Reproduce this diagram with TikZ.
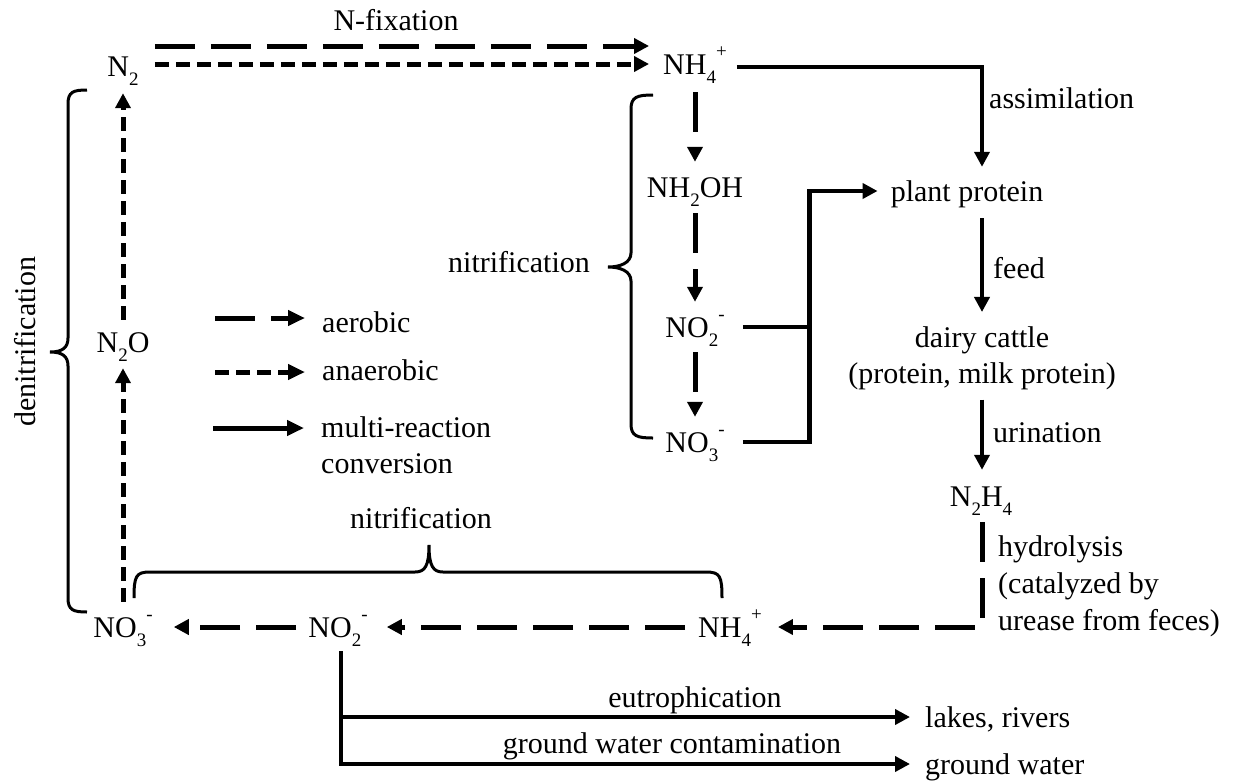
\documentclass[tikz,border=0pt]{standalone}
\usepackage{fontspec}
\setmainfont{Liberation Serif}
\usetikzlibrary{arrows.meta,calc}
\newcommand\chsub[1]{\raisebox{-9pt}{\fontsize{19}{19}\selectfont #1}}
\newcommand\chsup[1]{\raisebox{17pt}{\fontsize{19}{19}\selectfont #1}}
\tikzset{
 txt/.style={inner sep=0pt, font=\fontsize{30}{36}\selectfont},
 chem/.style={txt, text height=20pt, text depth=0pt, anchor=base},
 arrowtip/.style={-{Triangle[length=15pt,width=15pt]}},
 legtip/.style={-{Triangle[length=17pt,width=15pt]}},
 aer/.style={arrowtip, line width=5pt, dash pattern=on 40pt off 16pt},
 anaer/.style={arrowtip, line width=5pt, dash pattern=on 14pt off 7pt},
 sol/.style={arrowtip, line width=4.5pt},
 brace/.style={line width=3pt},
}
\begin{document}
\begin{tikzpicture}[x=1pt,y=-1pt]
\useasboundingbox (0,0) rectangle (1234,782);
% nodes
\node[chem] (n2) at (123,76) {N\chsub{2}};
\node[chem] (nh4a) at (695,74) {NH\chsub{4}\chsup{+}};
\node[chem] (nfix) at (396,30) {N-fixation};
\node[chem] (nh2oh) at (695,197) {NH\chsub{2}OH};
\node[chem] (no2a) at (695,337) {NO\chsub{2}\chsup{-}};
\node[chem] (no3a) at (695,452) {NO\chsub{3}\chsup{-}};
\node[chem, anchor=base east] (nitr1) at (590,272) {nitrification};
\node[chem] (plant) at (967,201) {plant protein};
\node[chem, anchor=base west] (assim) at (989,108) {assimilation};
\node[chem, anchor=base west] (feed) at (993,278) {feed};
\node[txt, anchor=base, align=center] (dairy) at (982,383) {dairy cattle\\(protein, milk protein)};
\node[chem, anchor=base west] (urin) at (993,442) {urination};
\node[chem] (n2h4) at (981,506) {N\chsub{2}H\chsub{4}};
\node[txt, anchor=base west, align=left, font=\fontsize{30}{37}\selectfont] (hydro) at (998,630) {hydrolysis\\(catalyzed by\\urease from feces)};
\node[chem] (nh4b) at (730,637) {NH\chsub{4}\chsup{+}};
\node[chem] (no2b) at (338,637) {NO\chsub{2}\chsup{-}};
\node[chem] (no3b) at (123,637) {NO\chsub{3}\chsup{-}};
\node[chem] (nitr2) at (421,528) {nitrification};
\node[chem] (n2o) at (123,352) {N\chsub{2}O};
\node[chem, rotate=90] (denitr) at (35,342) {denitrification};
\node[chem] (eutro) at (695,707) {eutrophication};
\node[chem] (gwc) at (672,753) {ground water contamination};
\node[chem, anchor=base west] (lakes) at (925,727) {lakes, rivers};
\node[chem, anchor=base west] (ground) at (925,774) {ground water};
% legend
\coordinate (la) at (215,318);
\coordinate (lb) at (215,372);
\coordinate (lc) at (213,428);
\node[chem, anchor=base west] (laer) at (322,332) {aerobic};
\node[chem, anchor=base west] (lanaer) at (322,380) {anaerobic};
\node[txt, anchor=base west, align=left] (lmulti) at (321,473) {multi-reaction\\conversion};
\draw[aer, legtip, shorten >=17pt] (la) -- (la -| laer.west);
\draw[anaer, legtip, shorten >=17pt] (lb) -- (lb -| lanaer.west);
\draw[sol, legtip, line width=5pt, shorten >=17pt] (lc) -- (lc -| lmulti.west);
% connectors
\draw[aer, shorten <=16pt, shorten >=14pt] ([yshift=20pt]n2.east) -- ([yshift=18pt]nh4a.west);
\draw[anaer, shorten <=16pt, shorten >=14pt] ([yshift=2pt]n2.east) -- (nh4a.west);
\draw[sol, shorten <=10pt, shorten >=14pt] ([yshift=-3pt]nh4a.east) -| (plant.north -| dairy.north);
\draw[aer, shorten <=18pt, shorten >=15pt] (nh4a.south) -- (nh2oh.north);
\draw[aer, shorten <=16pt, shorten >=15pt] (nh2oh.south) -- (no2a.north);
\draw[aer, shorten <=15pt, shorten >=15pt] (no2a.south) -- (no3a.north);
\coordinate (jn) at ($(plant.west)+(-81,0)$);
\draw[sol, shorten <=18pt, shorten >=13pt] (no3a.east) -| (jn) -- (plant.west);
\draw[line width=4.5pt, shorten <=18pt] (no2a.east) -- (no2a.east -| jn);
\draw[sol, shorten <=17pt, shorten >=14pt] (plant.south -| dairy.north) -- (dairy.north);
\draw[sol, shorten <=10pt, shorten >=16pt] (dairy.south) -- (n2h4.north -| dairy.south);
\draw[aer, shorten <=16pt, shorten >=16pt] (n2h4.south -| dairy.south) |- (nh4b.east);
\draw[aer, shorten <=13pt, shorten >=19pt] (nh4b.west) -- (no2b.east);
\draw[aer, shorten <=12pt, shorten >=21pt] (no2b.west) -- (no3b.east);
\draw[anaer, shorten <=15pt, shorten >=16pt] (no3b.north) -- (n2o.south);
\draw[anaer, shorten <=12pt, shorten >=17pt] (n2o.north) -- (n2.south);
\draw[sol, shorten <=14pt, shorten >=15pt] ([xshift=3pt]no2b.south) |- (lakes.west);
\draw[sol, shorten <=14pt, shorten >=15pt] ([xshift=3pt]no2b.south) |- (ground.west);
% braces
\draw[brace] (87,90) .. controls (73,90) and (68,92) .. (68,104) -- (68,338) .. controls (68,348) and (62,352) .. (50,352) .. controls (62,352) and (68,356) .. (68,366) -- (68,598) .. controls (68,610) and (73,612) .. (87,612);
\draw[brace] (653,95) .. controls (637,95) and (631,97) .. (631,109) -- (631,253) .. controls (631,263) and (620,267) .. (608,267) .. controls (620,267) and (631,271) .. (631,281) -- (631,424) .. controls (631,436) and (637,438) .. (653,438);
\draw[brace] (134,598) .. controls (134,576) and (136,572) .. (150,572) -- (415,572) .. controls (425,572) and (429,566) .. (429,545) .. controls (429,566) and (433,572) .. (443,572) -- (706,572) .. controls (720,572) and (722,576) .. (722,598);
\end{tikzpicture}
\end{document}
